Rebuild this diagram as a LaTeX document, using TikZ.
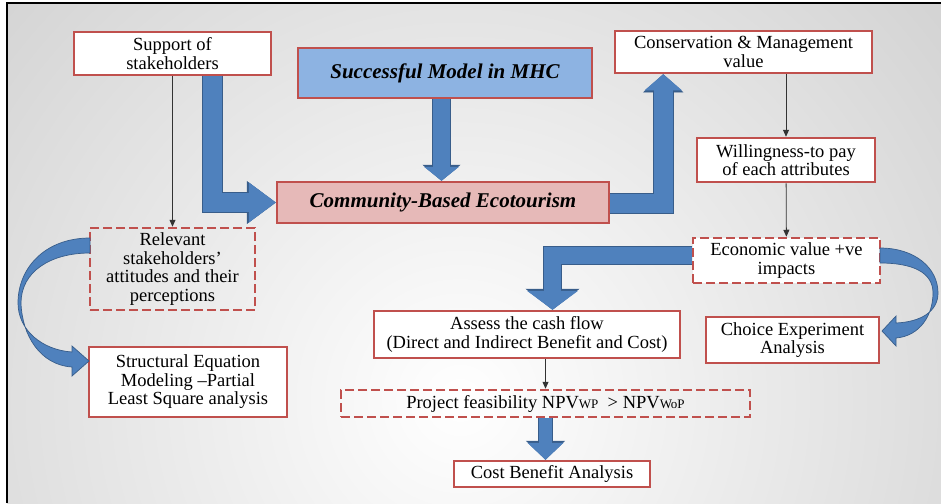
\documentclass[tikz,border=0pt]{standalone}
\usepackage{fontspec}
\setmainfont{Liberation Serif}
\usepackage{tikz}
\usepackage{xcolor}
\usetikzlibrary{positioning, arrows.meta, calc}

\definecolor{boxred}{HTML}{C0504D}
\definecolor{modelblue}{HTML}{8DB3E2}
\definecolor{cbepink}{HTML}{E6B9B8}
\definecolor{blockblue}{HTML}{4F81BD}
\definecolor{bluedark}{HTML}{385D8A}

\tikzset{
  box/.style={draw=boxred, line width=2.5pt, fill=white, align=center, inner sep=2pt},
  dashbox/.style={box, fill=none, dash pattern=on 9pt off 4pt},
  bigtext/.style={font=\fontsize{21}{21}\selectfont\bfseries\itshape},
  thinarrow/.style={draw=black!80, line width=0.8pt, -{Triangle[length=7pt 0, width=6pt 0]}},
  blockarrow/.style n args={3}{draw=blockblue, line width=#1pt,
    -{Triangle[length=#2pt 0, width=#3pt 0, line width=0.5pt, fill=blockblue]},
    preaction={draw=bluedark, line width=#1pt+2pt,
      -{Triangle[length=#2pt+2pt 0, width=#3pt+3pt 0, line width=0.5pt, fill=bluedark]}}},
  ribbon/.style={fill=blockblue, draw=bluedark, line width=0.7pt}
}

\begin{document}
\begin{tikzpicture}[x=1pt, y=-1pt, font=\fontsize{18.5}{18.5}\selectfont]
\useasboundingbox (0,0) rectangle (941,503);
% background and frame
\begin{scope}
  \clip (7,3) rectangle (941,503);
  \shade[inner color=white, outer color=black!33] (460,400) circle (1200);
\end{scope}
\draw[line width=2pt] (7,503) -- (7,3) -- (941,3);

% boxes
\node[box, minimum width=197, minimum height=43] (sup) at (172.5,53.5) {Support of\\stakeholders};
\node[box, bigtext, fill=modelblue, minimum width=294, minimum height=50] (smm) at (445,73) {Successful Model in MHC};
\node[box, bigtext, fill=cbepink, minimum width=332, minimum height=41] (cbe) at (443,202.5) {Community-Based Ecotourism};
\node[box, minimum width=257, minimum height=42] (cmv) at (743.5,52) {Conservation \& Management\\value};
\node[box, minimum width=178, minimum height=44] (wtp) at (786,160) {Willingness-to pay\\of each attributes};
\node[dashbox, fill=white, minimum width=187, minimum height=45] (eco) at (786.5,260.5) {Economic value +ve\\impacts};
\node[box, minimum width=173, minimum height=46] (cea) at (792.5,340) {Choice Experiment\\Analysis};
\node[dashbox, minimum width=165, minimum height=82] (rel) at (172.5,269) {Relevant\\stakeholders’\\attitudes and their\\perceptions};
\node[box, minimum width=198, minimum height=70] (sem) at (188,382) {Structural Equation\\Modeling –Partial\\Least Square analysis};
\node[box, minimum width=306, minimum height=47] (acf) at (527,334.5) {Assess the cash flow\\(Direct and Indirect Benefit and Cost)};
\node[dashbox, minimum width=409, minimum height=27] (pfe) at (545.5,403.5)
  {Project feasibility NPV{\fontsize{13}{13}\selectfont WP}~~>~NPV{\fontsize{13}{13}\selectfont WoP}};
\node[box, minimum width=196, minimum height=26] (cba) at (552,474) {Cost Benefit Analysis};

% block arrows
\draw[blockarrow={19}{27}{40}] ($(sup.south east)+(-59.5,0)$) |- (cbe.west);
\draw[blockarrow={17}{14}{35}] ($(smm.south)+(-3.5,0)$) -- ($(cbe.north)+(-1.5,0)$);
\draw[blockarrow={19}{16}{37}] ($(cbe.east)+(0,1)$) -| ($(cmv.south west)+(49.5,0)$);
\draw[blockarrow={17}{19}{51}] ($(eco.west)+(0,-5.5)$) -| ($(acf.north)+(25.5,0)$);
\draw[blockarrow={13}{17}{36}] (pfe.south) -- (pfe.south |- cba.north);

% thin arrows
\draw[thinarrow] (sup) -- (rel);
\draw[thinarrow] (cmv.south -| wtp.north) -- (wtp.north);
\draw[thinarrow] (wtp) -- (eco);
\draw[thinarrow] (acf.south -| pfe.north) -- (pfe.north);

% curved arrows
\path[ribbon] (90,238) .. controls (45,238) and (18,268) .. (18,303)
  .. controls (18,330) and (42,350) .. (72,352)
  -- (72,346) -- (89,361) -- (72,376) -- (72,367)
  .. controls (40,365) and (22,335) .. (21,303)
  .. controls (21,272) and (50,253) .. (90,253) -- cycle;
\path[ribbon] (880,248) .. controls (915,248) and (938,268) .. (938,293)
  .. controls (938,312) and (920,322) .. (896,323)
  -- (896,316) -- (882,331) -- (896,346) -- (896,338)
  .. controls (920,336) and (933,315) .. (933,293)
  .. controls (933,272) and (912,263) .. (880,263) -- cycle;
\end{tikzpicture}
\end{document}
